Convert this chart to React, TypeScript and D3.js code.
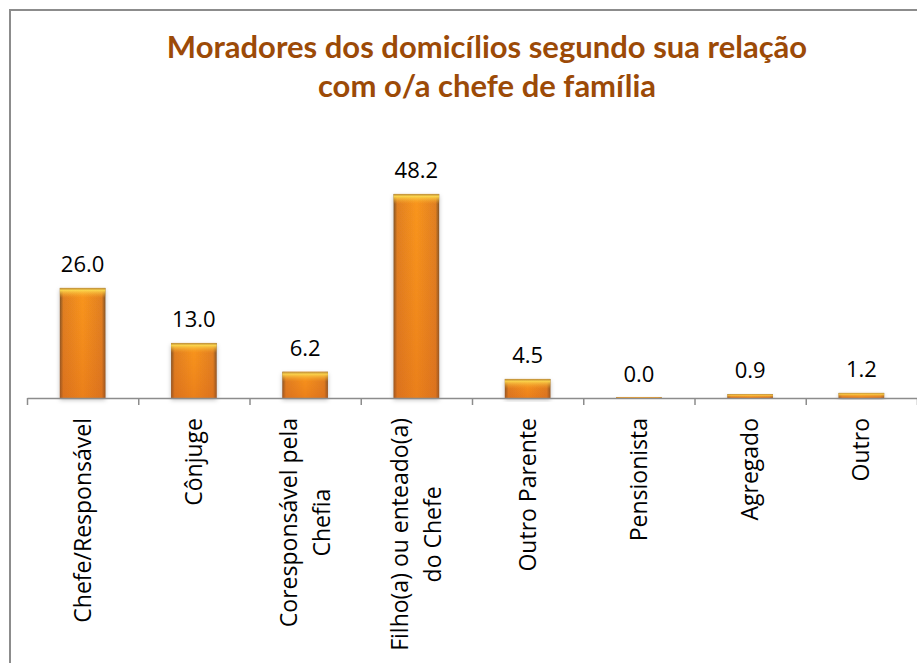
import React, { useEffect, useRef } from 'react';
import * as d3 from 'd3';

const categories: string[][] = [
  ['Chefe/Responsável'],
  ['Cônjuge'],
  ['Coresponsável pela', 'Chefia'],
  ['Filho(a) ou enteado(a)', 'do Chefe'],
  ['Outro Parente'],
  ['Pensionista'],
  ['Agregado'],
  ['Outro'],
];
const values: number[] = [26.0, 13.0, 6.2, 48.2, 4.5, 0.0, 0.9, 1.2];
const titleLines: string[] = [
  'Moradores dos domicílios segundo sua relação',
  'com o/a chefe de família',
];

const W = 917;
const H = 663;
const left = 27;
const right = 917;
const base = 398;
const labelTop = 418;

const App = () => {
  const axisRef = useRef<SVGGElement>(null);
  const labelRef = useRef<SVGGElement>(null);

  const keys = categories.map((c) => c.join(' '));
  const x = d3.scaleBand<string>()
    .domain(keys)
    .range([left, right])
    .paddingInner(0.59)
    .paddingOuter(0.295);
  const slot = d3.scaleLinear().domain([0, keys.length]).range([left, right]);
  const y = d3.scaleLinear().domain([0, 60]).range([base, 144]);
  const bw = x.bandwidth();

  useEffect(() => {
    const g = d3.select(axisRef.current);
    g.selectAll('*').remove();
    g.call(
      d3.axisBottom(slot)
        .tickValues(d3.range(keys.length + 1))
        .tickFormat(() => '')
        .tickSize(7)
        .tickSizeOuter(0)
    );
    g.select('.domain').attr('stroke', '#8c8c8c').attr('stroke-width', 1.5);
    g.selectAll('.tick line').attr('stroke', '#8c8c8c').attr('stroke-width', 1.5);

    // category labels: rotated, lines centred on each other, block hanging from the axis
    const lg = d3.select(labelRef.current);
    lg.selectAll('*').remove();
    const lh = 33;
    categories.forEach((lines, i) => {
      const cx = (x(keys[i]) as number) + bw / 2;
      const t = lg.append('text')
        .attr('font-size', 23)
        .attr('fill', '#000')
        .attr('text-anchor', 'middle');
      const spans = lines.map((s, j) =>
        t.append('tspan')
          .attr('x', 0)
          .attr('y', (j - (lines.length - 1) / 2) * lh)
          .attr('dy', '0.35em')
          .text(s)
      );
      const maxLen = d3.max(spans, (sp) => (sp.node() as SVGTSpanElement).getComputedTextLength()) || 0;
      t.attr('transform', `translate(${cx},${labelTop + maxLen / 2}) rotate(-90)`);
    });
  }, []);

  return (
    <svg width={W} height={H} style={{ position: 'absolute', left: 0, top: 0 }}
      fontFamily="'Open Sans', sans-serif">
      <defs>
        <linearGradient id="barSide" x1="0" x2="1" y1="0" y2="0">
          <stop offset="0%" stopColor="#7d5228" />
          <stop offset="8%" stopColor="#e08020" />
          <stop offset="50%" stopColor="#f9961f" />
          <stop offset="92%" stopColor="#e08020" />
          <stop offset="100%" stopColor="#7d5228" />
        </linearGradient>
        <linearGradient id="barTop" x1="0" x2="0" y1="0" y2="1">
          <stop offset="0%" stopColor="#b88a3a" stopOpacity={0.95} />
          <stop offset="25%" stopColor="#fbd84e" stopOpacity={0.95} />
          <stop offset="100%" stopColor="#f9a92a" stopOpacity={0} />
        </linearGradient>
        <linearGradient id="barBottom" x1="0" x2="0" y1="0" y2="1">
          <stop offset="0%" stopColor="#e0661a" stopOpacity={0} />
          <stop offset="100%" stopColor="#d45e18" stopOpacity={0.8} />
        </linearGradient>
        <filter id="shadow" x="-20%" y="-20%" width="140%" height="140%">
          <feDropShadow dx="0" dy="2" stdDeviation="2" floodColor="#000" floodOpacity="0.25" />
        </filter>
      </defs>

      <rect x={10} y={10} width={1000} height={1000} fill="#fff" stroke="#8c8c8c" strokeWidth={2} />

      <text textAnchor="middle" fill="#9c4a07" fontWeight="bold" fontSize={31}
        fontFamily="Lato, sans-serif">
        {titleLines.map((t, i) => (
          <tspan key={i} x={487} y={58 + i * 39}>{t}</tspan>
        ))}
      </text>

      {values.map((v, i) => {
        const bx = x(keys[i]) as number;
        const by = y(v);
        const h = Math.max(base - by, 1);
        return (
          <g key={keys[i]}>
            <g filter="url(#shadow)">
              <rect x={bx} y={base - h} width={bw} height={h} fill="url(#barSide)" />
            </g>
            <rect x={bx} y={base - h} width={bw} height={Math.min(10, h)} fill="url(#barTop)" />
            <rect x={bx} y={base - h} width={bw} height={h} fill="url(#barBottom)" opacity={0.5} />
            <text x={bx + bw / 2} y={by - 16} textAnchor="middle" fontSize={22} fill="#000">
              {v.toFixed(1)}
            </text>
          </g>
        );
      })}

      <g ref={axisRef} transform={`translate(0,${base})`} />
      <g ref={labelRef} />
    </svg>
  );
};

export default App;
